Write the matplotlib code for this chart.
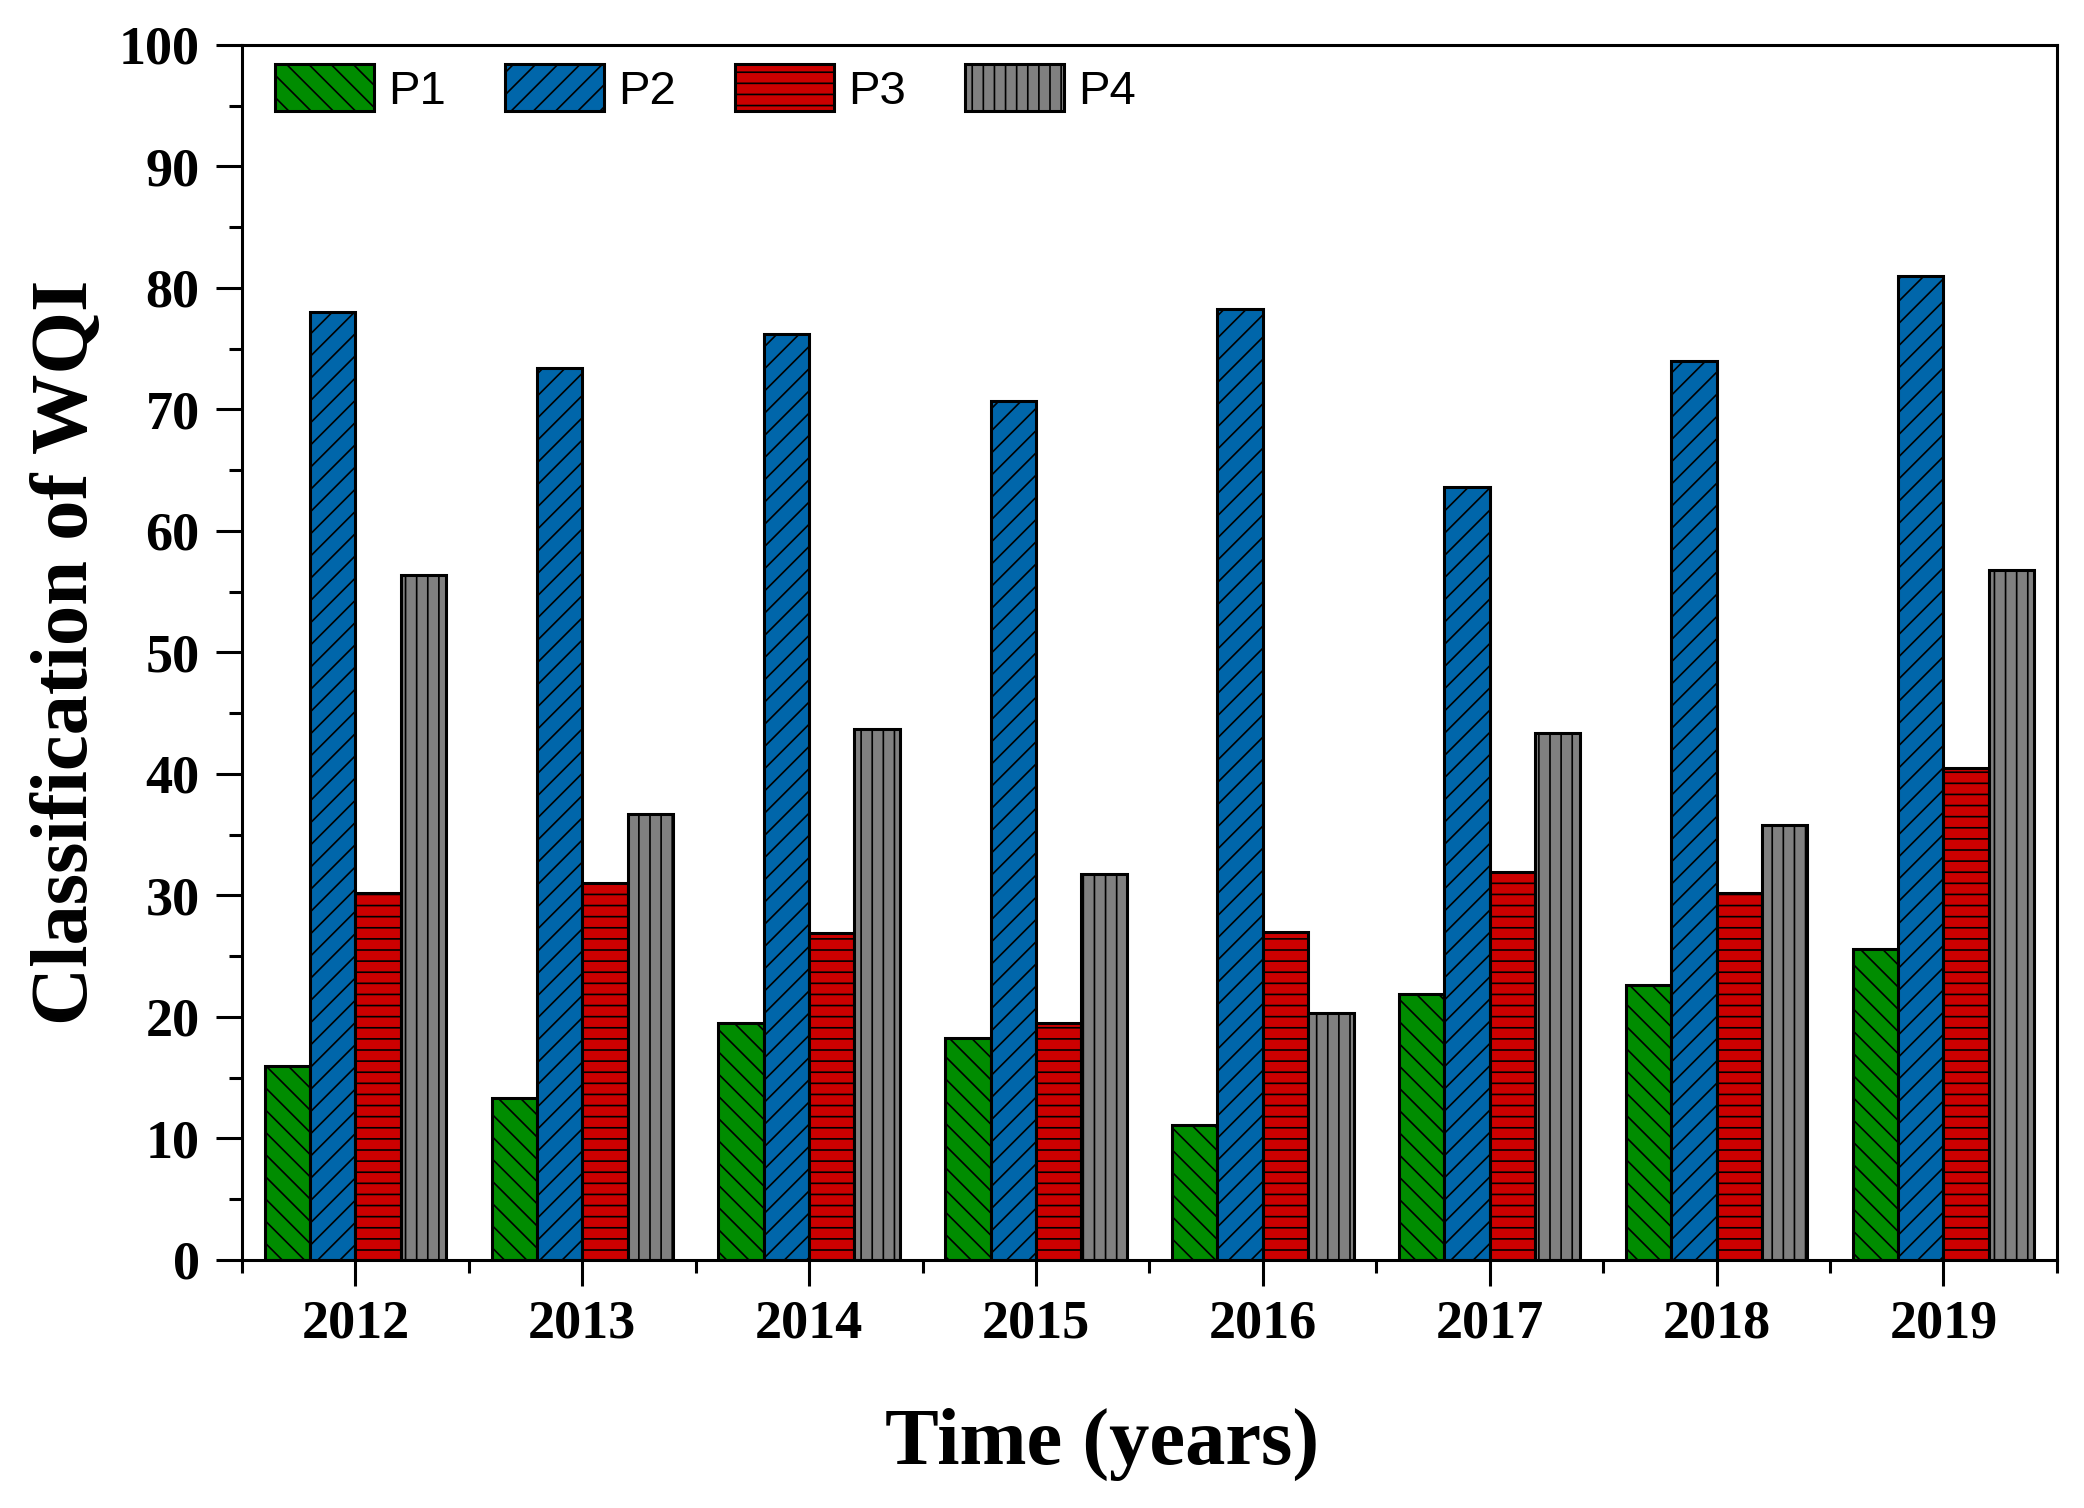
import numpy as np
import matplotlib
matplotlib.use("Agg")
import matplotlib.pyplot as plt
from matplotlib.ticker import MultipleLocator, FixedLocator

# values
years = ["2012", "2013", "2014", "2015", "2016", "2017", "2018", "2019"]
p1 = [16.0, 13.3, 19.5, 18.3, 11.1, 21.9, 22.6, 25.6]
p2 = [78.0, 73.4, 76.2, 70.7, 78.3, 63.6, 74.0, 81.0]
p3 = [30.2, 31.0, 26.9, 19.5, 27.0, 31.9, 30.2, 40.5]
p4 = [56.4, 36.7, 43.7, 31.8, 20.3, 43.4, 35.8, 56.8]

series = [("P1", p1, "#008c00", "\\\\\\"),
          ("P2", p2, "#0066aa", "///"),
          ("P3", p3, "#cc0000", "---"),
          ("P4", p4, "#808080", "|||")]

plt.rcParams["font.family"] = ["Liberation Serif", "DejaVu Serif"]
plt.rcParams["font.weight"] = "bold"
plt.rcParams["hatch.linewidth"] = 0.6
plt.rcParams["hatch.color"] = "black"

fig = plt.figure(figsize=(10.42, 7.54), dpi=200)
ax = fig.add_axes([0.1161, 0.1645, 0.9870 - 0.1161, 0.9702 - 0.1645])

x = np.arange(1, len(years) + 1)
w = 0.2
for i, (name, vals, color, hatch) in enumerate(series):
    ax.bar(x + (i - 1.5) * w, vals, width=w, color=color, edgecolor="black",
           linewidth=1.1, hatch=hatch, label=name, zorder=2)

ax.set_xlim(0.5, len(years) + 0.5)
ax.set_ylim(0, 100)

ax.xaxis.set_major_locator(FixedLocator(x))
ax.set_xticklabels(years)
ax.xaxis.set_minor_locator(FixedLocator(np.arange(0.5, len(years) + 1, 1)))
ax.yaxis.set_major_locator(MultipleLocator(10))
ax.yaxis.set_minor_locator(MultipleLocator(5))

ax.tick_params(axis="both", which="major", direction="out", length=9.2, width=1.1,
               labelsize=19.5, top=False, right=False)
ax.tick_params(axis="x", which="major", pad=5)
ax.tick_params(axis="y", which="major", pad=6)
ax.tick_params(axis="both", which="minor", direction="out", length=4.8, width=1.1,
               top=False, right=False)
for s in ax.spines.values():
    s.set_linewidth(1.1)

ax.set_xlabel("Time (years)", fontsize=29, fontweight="bold")
ax.set_ylabel("Classification of WQI", fontsize=29, fontweight="bold")
ax.xaxis.set_label_coords(0.474, -0.122)
ax.yaxis.set_label_coords(-0.076, 0.5)

ax.legend(loc="upper left", bbox_to_anchor=(0.018, 0.984), ncol=4, frameon=False,
          prop={"family": ["Liberation Sans", "DejaVu Sans"], "weight": "normal", "size": 17},
          handlelength=2.1, handleheight=1.15, handletextpad=0.3,
          columnspacing=1.25, borderpad=0, borderaxespad=0)

fig.savefig("out.png", dpi=200)
